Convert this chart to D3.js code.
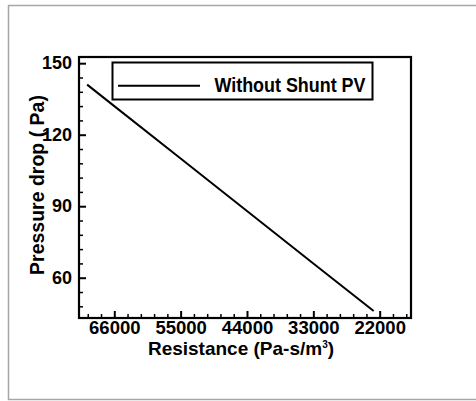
<!DOCTYPE html>
<html>
<head>
<meta charset="utf-8">
<script src="https://cdn.jsdelivr.net/npm/d3@7"></script>
<style>
  html, body { margin: 0; padding: 0; background: #fff; }
  svg { display: block; }
  text { font-family: "Liberation Sans", Arial, Helvetica, sans-serif; font-weight: bold; fill: #000; }
</style>
</head>
<body>
<div id="chart"></div>
<script>
// Values
const resistance = [70500, 66000, 55000, 44000, 33000, 23000];
const pressureDrop = [141, 132, 110, 88, 66, 46];
const seriesName = 'Without Shunt PV';

const xMajorTicks = [66000, 55000, 44000, 33000, 22000];
const xMinorTicks = [70400, 68200, 63800, 61600, 59400, 57200, 52800, 50600, 48400, 46200,
  41800, 39600, 37400, 35200, 30800, 28600, 26400, 24200, 19800, 17600];
const yMajorTicks = [60, 90, 120, 150];
const yMinorTicks = [48, 54, 66, 72, 78, 84, 96, 102, 108, 114, 126, 132, 138, 144];

const width = 476;
const height = 401;
const plot = { left: 79, right: 411, top: 57, bottom: 318 };

const svg = d3.select('#chart')
  .append('svg')
  .attr('width', width)
  .attr('height', height);

// outer grey frame of the figure (open on the right)
svg.append('path')
  .attr('d', `M${width + 10},5.5 H8.5 V399.5 H${width + 10}`)
  .attr('fill', 'none')
  .attr('stroke', '#a6a6a6')
  .attr('stroke-width', 1.5);

// Scales (x axis runs from high to low resistance)
const x = d3.scaleLinear()
  .domain([71850, 16810])
  .range([plot.left, plot.right]);

const y = d3.scaleLinear()
  .domain([43.1, 152.6])
  .range([plot.bottom, plot.top]);

// X axis: minor then major ticks, pointing inwards
svg.append('g')
  .attr('transform', `translate(0,${plot.bottom})`)
  .call(d3.axisBottom(x).tickValues(xMinorTicks).tickSize(-4).tickFormat(''))
  .call(g => g.select('.domain').remove())
  .selectAll('line').attr('stroke-width', 1.5);

const xAxis = svg.append('g')
  .attr('transform', `translate(0,${plot.bottom})`)
  .call(d3.axisBottom(x).tickValues(xMajorTicks).tickSize(-7).tickPadding(3).tickFormat(d3.format('d')));
xAxis.select('.domain').remove();
xAxis.selectAll('line').attr('stroke-width', 2);
xAxis.selectAll('text')
  .attr('font-size', 18.5)
  .attr('font-family', null);

// Y axis
svg.append('g')
  .attr('transform', `translate(${plot.left},0)`)
  .call(d3.axisLeft(y).tickValues(yMinorTicks).tickSize(-4).tickFormat(''))
  .call(g => g.select('.domain').remove())
  .selectAll('line').attr('stroke-width', 1.5);

const yAxis = svg.append('g')
  .attr('transform', `translate(${plot.left},0)`)
  .call(d3.axisLeft(y).tickValues(yMajorTicks).tickSize(-7).tickPadding(7).tickFormat(d3.format('d')));
yAxis.select('.domain').remove();
yAxis.selectAll('line').attr('stroke-width', 2);
yAxis.selectAll('text')
  .attr('font-size', 18)
  .attr('font-family', null);

// Plot frame
svg.append('rect')
  .attr('x', plot.left)
  .attr('y', plot.top)
  .attr('width', plot.right - plot.left)
  .attr('height', plot.bottom - plot.top)
  .attr('fill', 'none')
  .attr('stroke', '#000')
  .attr('stroke-width', 2.2);

// Series line
const data = resistance.map((r, i) => ({ r: r, p: pressureDrop[i] }));
svg.append('path')
  .datum(data)
  .attr('fill', 'none')
  .attr('stroke', '#000')
  .attr('stroke-width', 2)
  .attr('d', d3.line().x(d => x(d.r)).y(d => y(d.p)));

// Legend
const legend = svg.append('g').attr('class', 'legend');
legend.append('rect')
  .attr('x', 112.5)
  .attr('y', 62.5)
  .attr('width', 260)
  .attr('height', 37)
  .attr('fill', '#fff')
  .attr('stroke', '#000')
  .attr('stroke-width', 2);
legend.append('line')
  .attr('x1', 118)
  .attr('x2', 200)
  .attr('y1', 85.7)
  .attr('y2', 85.7)
  .attr('stroke', '#000')
  .attr('stroke-width', 2);
legend.append('text')
  .attr('x', 214.5)
  .attr('y', 92.3)
  .attr('font-size', 20)
  .attr('textLength', 151)
  .attr('lengthAdjust', 'spacingAndGlyphs')
  .text(seriesName);

// Axis titles
const xTitle = svg.append('text')
  .attr('x', 241)
  .attr('y', 355)
  .attr('text-anchor', 'middle')
  .attr('font-size', 19);
xTitle.append('tspan').text('Resistance (Pa-s/m');
xTitle.append('tspan').attr('font-size', 10).attr('dy', -7.5).text('3');
xTitle.append('tspan').attr('dy', 7.5).text(')');

svg.append('text')
  .attr('transform', 'translate(43.5,185) rotate(-90)')
  .attr('text-anchor', 'middle')
  .attr('font-size', 19.5)
  .text('Pressure drop ( Pa)');
</script>
</body>
</html>
